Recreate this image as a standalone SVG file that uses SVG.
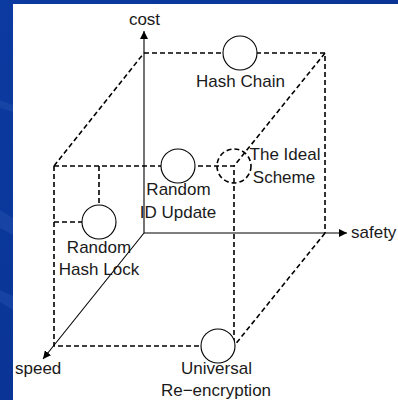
<svg xmlns="http://www.w3.org/2000/svg" width="398" height="400" viewBox="0 0 398 400">
<style>
.dash{fill:none;stroke:#000;stroke-width:1.6;stroke-dasharray:5 3}
.axis{fill:none;stroke:#000;stroke-width:1.1}
.node{fill:#fff;stroke:#000;stroke-width:1.1}
.ideal{fill:none;stroke:#000;stroke-width:1.6;stroke-dasharray:5 3}
text{font-family:"Liberation Sans",Arial,sans-serif;font-size:17px;fill:#1a1a1a}
.m{text-anchor:middle}
</style>
<defs>
<marker id="arr" viewBox="0 0 10 10" refX="10" refY="5" markerWidth="8" markerHeight="8" markerUnits="userSpaceOnUse" orient="auto">
<path d="M0,0 L10,5 L0,10 z" fill="#000"/>
</marker>
<linearGradient id="bg" x1="0" y1="0" x2="1" y2="1">
<stop offset="0" stop-color="#0b3aa0"/>
<stop offset="0.5" stop-color="#0a3596"/>
<stop offset="1" stop-color="#0b3aa0"/>
</linearGradient>
</defs>
<rect x="0" y="0" width="398" height="400" fill="url(#bg)"/>
<g fill="#1e4cab" opacity="0.6">
<polygon points="0,100 13,105 13,112 0,108"/>
<polygon points="0,210 13,218 13,235 0,228"/>
<polygon points="0,290 13,296 13,310 0,302"/>
</g>
<rect x="13" y="4" width="385" height="396" fill="#fff"/>
<g id="connectors">
<line class="axis" x1="144" y1="233" x2="144" y2="31" marker-end="url(#arr)"/>
<line class="axis" x1="144" y1="233" x2="347" y2="233" marker-end="url(#arr)"/>
<line class="axis" x1="144" y1="233" x2="43" y2="359" marker-end="url(#arr)"/>
<path class="dash" d="M144,53 H325 V233"/>
<path class="dash" d="M54,166 L144,53"/>
<path class="dash" d="M325,53 L234,166"/>
<path class="dash" d="M54,166 H234 V346"/>
<path class="dash" d="M54,166 V346 H234"/>
<path class="dash" d="M325,233 L234,346"/>
<path class="dash" d="M99,166 V205"/>
<path class="dash" d="M54,222 H82"/>
</g>
<g id="axis-labels">
<text class="m" x="144.5" y="25">cost</text>
<text x="351" y="238">safety</text>
<text x="15" y="374">speed</text>
</g>
<g id="hash-chain">
<circle class="node" cx="240" cy="53" r="17"/>
<text class="m" x="240.5" y="87">Hash Chain</text>
</g>
<g id="ideal-scheme">
<circle class="ideal" cx="234" cy="166" r="17"/>
<text class="m" x="285" y="160">The Ideal</text>
<text class="m" x="284" y="183">Scheme</text>
</g>
<g id="random-id-update">
<circle class="node" cx="178" cy="166" r="17"/>
<text class="m" x="178.5" y="195">Random</text>
<text class="m" x="178" y="218">ID Update</text>
</g>
<g id="random-hash-lock">
<circle class="node" cx="99" cy="222" r="17"/>
<text class="m" x="99" y="253">Random</text>
<text class="m" x="99" y="275">Hash Lock</text>
</g>
<g id="universal-reencryption">
<circle class="node" cx="218" cy="346" r="17"/>
<text class="m" x="216.5" y="374">Universal</text>
<text class="m" x="216" y="396">Re−encryption</text>
</g>
</svg>
